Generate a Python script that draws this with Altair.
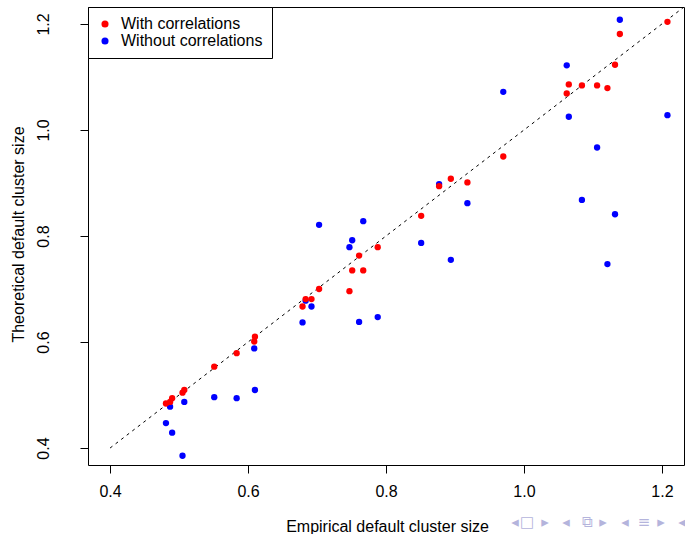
import altair as alt
import pandas as pd

# Empirical default cluster size (shared by both series)
empirical = [1.208, 1.139, 1.132, 1.065, 1.084, 1.106, 1.121, 1.062, 0.970, 0.894,
             0.918, 0.877, 0.851, 0.788, 0.761, 0.751, 0.767, 0.747, 0.703, 0.692,
             0.6835, 0.679, 0.610, 0.609, 0.5835, 0.551, 0.5076, 0.505, 0.490, 0.487, 0.481]
# Theoretical default cluster size, with correlations (red)
with_corr = [1.204, 1.181, 1.123, 1.086, 1.084, 1.084, 1.079, 1.069, 0.950, 0.908,
             0.901, 0.894, 0.838, 0.779, 0.763, 0.735, 0.735, 0.696, 0.700, 0.681,
             0.681, 0.667, 0.610, 0.601, 0.579, 0.5535, 0.5095, 0.5044, 0.494, 0.487, 0.484]
# Theoretical default cluster size, without correlations (blue)
without_corr = [1.028, 1.208, 0.841, 1.025, 0.868, 0.967, 0.747, 1.122, 1.072, 0.755,
                0.862, 0.898, 0.787, 0.647, 0.638, 0.792, 0.828, 0.779, 0.821, 0.667,
                0.678, 0.637, 0.5095, 0.588, 0.494, 0.496, 0.487, 0.3855, 0.429, 0.478, 0.447]

series_names = ["With correlations", "Without correlations"]
series_colors = ["#ff0000", "#0000ff"]
ticks = [0.4, 0.6, 0.8, 1.0, 1.2]
diag = [0.4, 1.232]

nav_glyphs = ["◂", "□", "▸", "◂", "⧉", "▸", "◂", "≡", "▸", "◂"]
nav_px = [515, 527, 545, 566, 587, 603, 625, 644, 661, 682]

rows = []
for x, y in zip(empirical, without_corr):
    rows.append({"x": x, "y": y, "series": series_names[1]})
for x, y in zip(empirical, with_corr):
    rows.append({"x": x, "y": y, "series": series_names[0]})
df = pd.DataFrame(rows)

dom = [0.368, 1.232]
FONT = "Liberation Sans"

xs = alt.Scale(domain=dom, nice=False, zero=False)
ys = alt.Scale(domain=dom, nice=False, zero=False)

points = alt.Chart(df).mark_circle(size=40, opacity=1).encode(
    x=alt.X("x:Q", scale=xs,
            axis=alt.Axis(values=ticks, format=".1f", title="Empirical default cluster size",
                          titleX=299, titleY=61, titleAlign="center", titleBaseline="middle")),
    y=alt.Y("y:Q", scale=ys,
            axis=alt.Axis(values=ticks, format=".1f", title="Theoretical default cluster size",
                          labelAngle=-90, labelAlign="center", labelBaseline="bottom",
                          labelPadding=29,
                          titleX=-70, titleY=227, titleAngle=-90,
                          titleAlign="center", titleBaseline="middle")),
    color=alt.Color("series:N", scale=alt.Scale(domain=series_names, range=series_colors),
                    legend=alt.Legend(title=None, orient="top-left", offset=0)),
    order=alt.Order("ord:Q"),
).transform_calculate(ord="datum.series == 'With correlations' ? 1 : 0")

line_df = pd.DataFrame({"x": diag, "y": diag})
line = alt.Chart(line_df).mark_line(color="black", strokeWidth=1, strokeDash=[3, 4], clip=True).encode(
    x=alt.X("x:Q", scale=xs), y=alt.Y("y:Q", scale=ys)
)

nav_df = pd.DataFrame({"g": nav_glyphs, "px": [p - 88 for p in nav_px]})
nav = alt.Chart(nav_df).mark_text(fontSize=15, color="#b4b4dc", font="DejaVu Sans",
                                  baseline="middle", align="center").encode(
    x=alt.X("px:Q", scale=None), y=alt.value(515), text="g:N"
)

chart = alt.layer(line, points, nav).properties(
    width=596, height=458,
    autosize=alt.AutoSizeParams(type="none"),
    padding={"left": 88, "top": 7, "right": 1, "bottom": 69},
    background="white",
).configure_view(stroke="black", strokeWidth=1).configure_axis(
    domain=False, grid=False, tickColor="black", tickSize=8, tickWidth=1,
    labelFont=FONT, labelFontSize=16, labelColor="black", labelPadding=10,
    titleFont=FONT, titleFontSize=16, titleColor="black", titleFontWeight="normal",
).configure_legend(
    strokeColor="black", fillColor="white", padding=9, symbolType="circle",
    symbolSize=50, symbolStrokeWidth=0, labelFont=FONT, labelFontSize=16,
    labelColor="black", labelOffset=8, rowPadding=1, cornerRadius=0,
)

chart.save("out.html", embed_options={"renderer": "svg", "actions": False})
